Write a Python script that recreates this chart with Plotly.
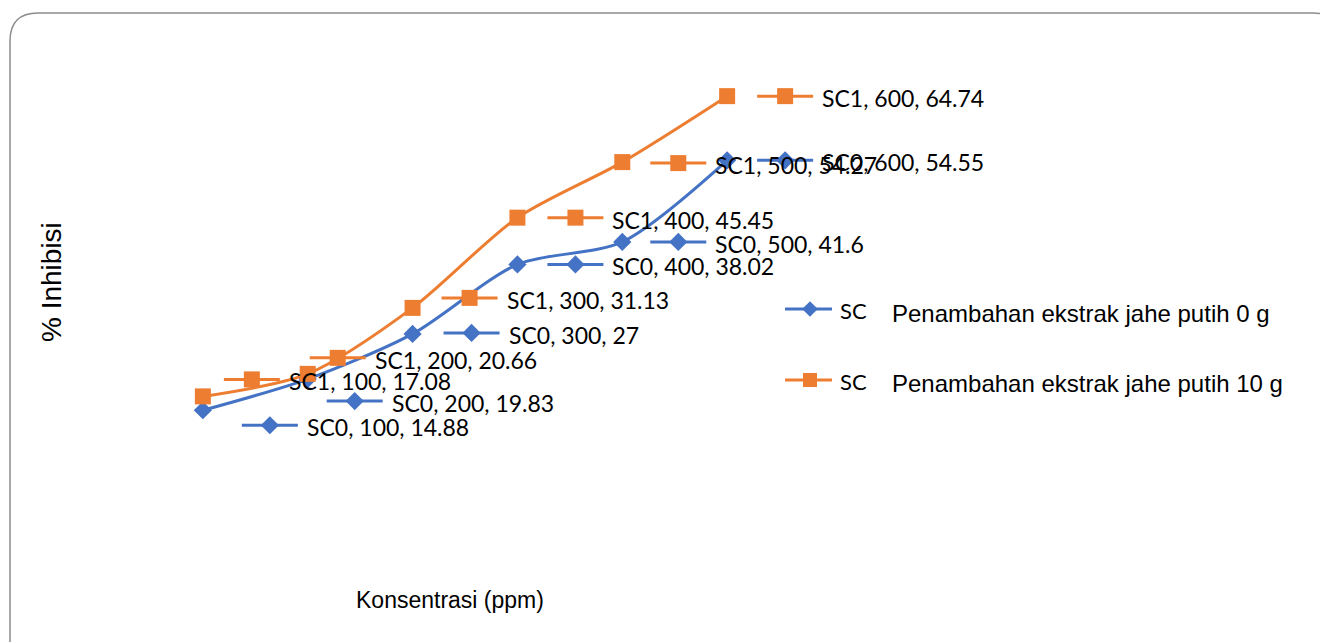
import plotly.graph_objects as go

# ---- data ----
konsentrasi = [100, 200, 300, 400, 500, 600]
sc0 = [14.88, 19.83, 27, 38.02, 41.6, 54.55]
sc1 = [17.08, 20.66, 31.13, 45.45, 54.27, 64.74]
series_codes = ["SC0", "SC1"]
series_names = ["Penambahan ekstrak jahe putih 0 g", "Penambahan ekstrak jahe putih 10 g"]
x_title = "Konsentrasi (ppm)"
y_title = "% Inhibisi"

# ---- layout geometry (page pixels; page body has an 8px margin) ----
OFF = 8
W_FIG, H_FIG = 1328, 642
L, T, PW, PH = 98, 63, 734, 441      # plot area in page pixels
XR, YR = [0, 700], [0, 70]
BLUE, ORANGE = "#4472C4", "#ED7D31"
LABEL_FONT = "Lato"
TITLE_FONT = "Liberation Sans"

def px_to_x(p):
    return XR[0] + (p - L) / PW * (XR[1] - XR[0])

def py_to_y(p):
    return YR[0] + (T + PH - p) / PH * (YR[1] - YR[0])

def x_to_px(v):
    return L + (v - XR[0]) / (XR[1] - XR[0]) * PW

def y_to_py(v):
    return T + PH - (v - YR[0]) / (YR[1] - YR[0]) * PH

def pxp(p):  # page pixel x -> paper
    return (p - L) / PW

def pyp(p):  # page pixel y -> paper
    return (T + PH - p) / PH

# label key offsets (pixels, key centre relative to point)
off0 = [(67, 15), (47, 22), (59, -1), (58, 0), (56, 0), (58, 0)]
off1 = [(49, -17), (30, -16), (57, -10), (58, 0), (56, 1), (58, 0)]

fig = go.Figure()

styles = [
    dict(color=BLUE, symbol="diamond", size=14),
    dict(color=ORANGE, symbol="square", size=16),
]

for vals, offs, code, st in [(sc0, off0, "SC0", styles[0]), (sc1, off1, "SC1", styles[1])]:
    fig.add_trace(go.Scatter(
        x=konsentrasi, y=vals, mode="lines+markers",
        line=dict(color=st["color"], width=3, shape="spline", smoothing=0.8),
        marker=dict(color=st["color"], symbol=st["symbol"], size=st["size"]),
        showlegend=False, hoverinfo="skip"))
    lx, ly, mx, my = [], [], [], []
    for xv, yv, (dx, dy) in zip(konsentrasi, vals, offs):
        cx = x_to_px(xv) + dx
        cy = y_to_py(yv) + dy
        lx += [px_to_x(cx - 28), px_to_x(cx + 28), None]
        ly += [py_to_y(cy), py_to_y(cy), None]
        mx.append(px_to_x(cx)); my.append(py_to_y(cy))
        fig.add_annotation(x=px_to_x(cx + 35), y=py_to_y(cy + 2), xref="x", yref="y",
                           text=f"{code}, {xv}, {yv:g}", showarrow=False,
                           xanchor="left", yanchor="middle",
                           font=dict(family=LABEL_FONT, size=23, color="#000000"))
    fig.add_trace(go.Scatter(x=lx, y=ly, mode="lines", line=dict(color=st["color"], width=3),
                             showlegend=False, hoverinfo="skip", cliponaxis=False))
    fig.add_trace(go.Scatter(x=mx, y=my, mode="markers",
                             marker=dict(color=st["color"], symbol=st["symbol"], size=st["size"]),
                             showlegend=False, hoverinfo="skip", cliponaxis=False))

# custom legend
for i, (code, name, st) in enumerate(zip(series_codes, series_names, styles)):
    cy = 309 + i * 71
    fig.add_trace(go.Scatter(x=[px_to_x(785), px_to_x(835)], y=[py_to_y(cy)] * 2, mode="lines",
                             line=dict(color=st["color"], width=3), showlegend=False,
                             hoverinfo="skip", cliponaxis=False))
    fig.add_trace(go.Scatter(x=[px_to_x(810)], y=[py_to_y(cy)], mode="markers",
                             marker=dict(color=st["color"], symbol=st["symbol"], size=st["size"] - 2),
                             showlegend=False, hoverinfo="skip", cliponaxis=False))
    fig.add_annotation(x=pxp(838), y=pyp(cy + 1), xref="paper", yref="paper", text=code[:2],
                       showarrow=False, xanchor="left", yanchor="middle",
                       font=dict(family=LABEL_FONT, size=22, color="#000000"))
    fig.add_annotation(x=pxp(890), y=pyp(cy + 4), xref="paper", yref="paper", text=name,
                       showarrow=False, xanchor="left", yanchor="middle",
                       font=dict(family=TITLE_FONT, size=24, color="#000000"))

# axis titles
fig.add_annotation(x=pxp(51), y=pyp(282), xref="paper", yref="paper", text=y_title,
                   textangle=-90, showarrow=False, xanchor="center", yanchor="middle",
                   font=dict(family=TITLE_FONT, size=28, color="#000000"))
fig.add_annotation(x=pxp(450), y=pyp(600), xref="paper", yref="paper", text=x_title,
                   showarrow=False, xanchor="center", yanchor="middle",
                   font=dict(family=TITLE_FONT, size=23, color="#000000"))

# rounded border
x0, y0, y1 = pxp(10), pyp(13), pyp(660)
rx = 28 / PW
ry = 28 / PH
path = (f"M {x0},{y1} L {x0},{y0 - ry} Q {x0},{y0} {x0 + rx},{y0} "
        f"L {pxp(1313)},{y0} Q {pxp(1326)},{y0} {pxp(1334)},{pyp(20)}")
fig.add_shape(type="path", path=path, xref="paper", yref="paper",
              line=dict(color="#8c8c8c", width=1.5))

fig.update_xaxes(range=XR, visible=False)
fig.update_yaxes(range=YR, visible=False)
fig.update_layout(width=W_FIG, height=H_FIG,
                  margin=dict(l=L - OFF, r=W_FIG - (L - OFF) - PW, t=T - OFF, b=H_FIG - (T - OFF) - PH),
                  plot_bgcolor="white", paper_bgcolor="white", showlegend=False)

fig.write_html("out.html")
